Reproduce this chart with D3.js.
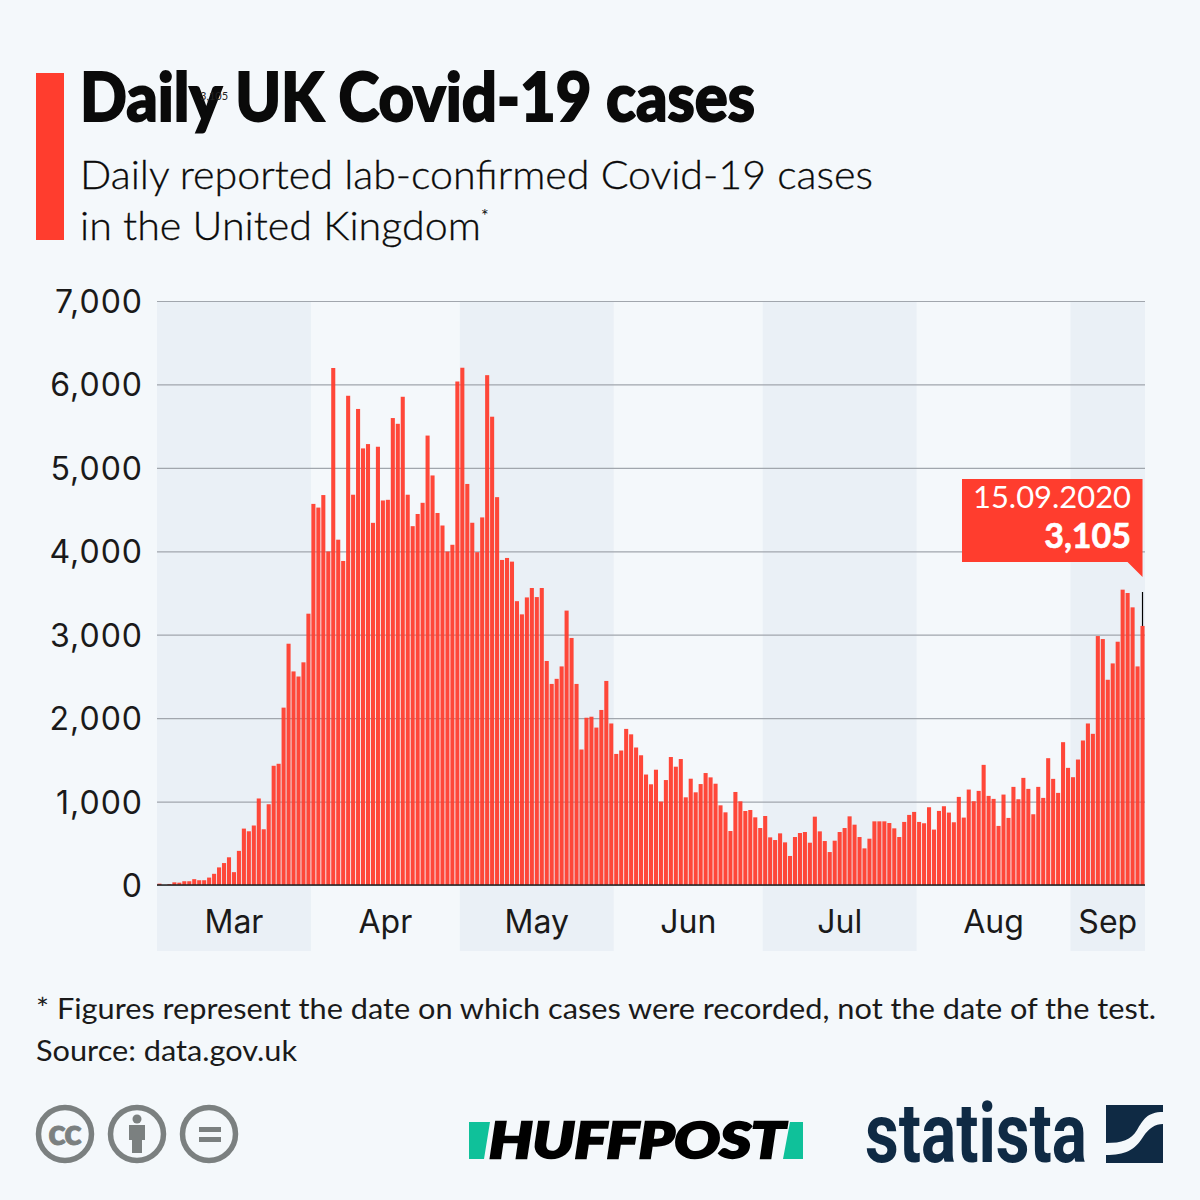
<!DOCTYPE html>
<html>
<head>
<meta charset="utf-8">
<script src="https://cdn.jsdelivr.net/npm/d3@7"></script>
<style>
  html, body { margin: 0; padding: 0; background: #f4f8fb; }
  svg { display: block; }
  text { font-family: Lato, "Open Sans", sans-serif; }
</style>
</head>
<body>
<svg id="chart"></svg>
<script>
// values, 1 March - 15 September 2020
const cases = [
  16, 0, 10, 32, 28, 45, 45, 70, 57, 57, 89, 134, 211, 263, 332, 154, 409, 676, 644, 713, 1037, 668, 968, 1429, 1453, 2126, 2892, 2560, 2499, 2669, 3252,
  4568, 4524, 4674, 3998, 6197, 4139, 3884, 5864, 4678, 5706, 5233, 5285, 4341, 5253, 4609, 4617, 5597, 5528, 5852, 4678, 4301, 4447, 4581, 5387, 4909, 4459, 4309, 3997, 4078, 6035,
  6200, 4807, 4342, 3989, 4406, 6111, 5613, 4649, 3896, 3920, 3876, 3402, 3244, 3447, 3560, 3451, 3560, 2685, 2410, 2471, 2620, 3289, 2961, 2410, 1624, 2005, 2017, 1887, 2098, 2446, 1936,
  1571, 1612, 1871, 1806, 1648, 1555, 1324, 1207, 1382, 1000, 1258, 1534, 1418, 1510, 1051, 1274, 1111, 1210, 1342, 1290, 1214, 955, 871, 647, 1115, 1003, 887, 899, 811, 683,
  827, 571, 539, 619, 511, 348, 575, 623, 635, 507, 819, 643, 527, 395, 531, 635, 683, 823, 723, 575, 439, 555, 763, 763, 763, 743, 679, 575, 756, 840, 876,
  756, 740, 932, 664, 888, 944, 868, 752, 1056, 808, 1144, 1004, 1128, 1440, 1068, 1032, 708, 1084, 804, 1176, 1028, 1284, 1152, 848, 1176, 1044, 1520, 1272, 1104, 1712, 1404, 1292, 1504,
  1732, 1936, 1812, 2984, 2948, 2460, 2656, 2916, 3540, 3500, 3328, 2620, 3105
];
const months = ['Mar', 'Apr', 'May', 'Jun', 'Jul', 'Aug', 'Sep'];
const monthDays = [31, 30, 31, 30, 31, 31, 15];
const yTicks = [0, 1000, 2000, 3000, 4000, 5000, 6000, 7000];
const subtitleLines = ['Daily reported lab-confirmed Covid-19 cases', 'in the United Kingdom'];
const footnotes = ['* Figures represent the date on which cases were recorded, not the date of the test.', 'Source: data.gov.uk'];

const width = 1200, height = 1200;
const margin = {top: 301, right: 55, bottom: 315, left: 157};
const red = '#ff3d2e', ink = '#0a0a0a', grey = '#7b8080', navy = '#0f2a44';

const svg = d3.select('#chart').attr('width', width).attr('height', height)
  .attr('viewBox', [0, 0, width, height]);
svg.append('rect').attr('width', width).attr('height', height).attr('fill', '#f4f8fb');

// header
svg.append('rect').attr('x', 36).attr('y', 73).attr('width', 28).attr('height', 167).attr('fill', red);
svg.append('text').attr('x', 80).attr('y', 121)
  .attr('font-size', 66).attr('font-weight', 900).attr('fill', ink)
  .attr('stroke', ink).attr('stroke-width', 1.8)
  .attr('textLength', 675).attr('lengthAdjust', 'spacingAndGlyphs')
  .text('Daily UK Covid-19 cases');
// small stray value that sits on the title in the original
svg.append('text').attr('x', 200).attr('y', 100)
  .attr('font-size', 11).attr('fill', '#222')
  .text('3,105');
svg.selectAll('.subtitle').data(subtitleLines).join('text')
  .attr('class', 'subtitle')
  .attr('x', 80).attr('y', (d, i) => 189 + i * 51)
  .attr('font-size', 39).attr('font-weight', 300).attr('fill', ink)
  .attr('stroke', ink).attr('stroke-width', 0.3)
  .attr('textLength', (d, i) => i ? 401 : 793)
  .attr('lengthAdjust', 'spacingAndGlyphs')
  .text(d => d);
svg.append('text').attr('x', 481).attr('y', 222)
  .attr('font-size', 18).attr('fill', ink).text('*');

// scales
const plotH = height - margin.top - margin.bottom;
const plotR = width - margin.right;
const x = d3.scaleBand()
  .domain(d3.range(cases.length))
  .range([margin.left, plotR])
  .paddingInner(0.18).paddingOuter(0.09);
const y = d3.scaleLinear()
  .domain([0, 7000])
  .range([margin.top + plotH, margin.top]);
const bandBottom = 951;

// month bands
let start = 0;
const monthSpans = months.map((m, i) => {
  const span = {name: m, i, from: start, to: start + monthDays[i]};
  start += monthDays[i];
  return span;
});
const dayEdge = d => margin.left + d * x.step();
svg.selectAll('.band').data(monthSpans.filter(d => d.i % 2 === 0)).join('rect')
  .attr('class', 'band')
  .attr('x', d => dayEdge(d.from))
  .attr('width', d => dayEdge(d.to) - dayEdge(d.from))
  .attr('y', margin.top)
  .attr('height', bandBottom - margin.top)
  .attr('fill', '#eaf0f6');

// y axis and grid
const yAxis = svg.append('g')
  .attr('transform', `translate(${margin.left},0)`)
  .call(d3.axisLeft(y).tickValues(yTicks).tickFormat(d3.format(',')).tickSize(-(plotR - margin.left)).tickPadding(14));
yAxis.select('.domain').remove();
yAxis.selectAll('line').attr('stroke', '#a1a6ad').attr('stroke-width', 1.2);
yAxis.selectAll('text').attr('font-size', 32).attr('fill', '#1a1a1a')
  .attr('letter-spacing', 1)
  .style('font-family', 'Inter, sans-serif').attr('font-weight', 400).attr('dy', '0.36em');

// bars
svg.append('g').selectAll('rect').data(cases).join('rect')
  .attr('x', (d, i) => x(i))
  .attr('y', d => y(d))
  .attr('width', x.bandwidth())
  .attr('height', d => y(0) - y(d))
  .attr('fill', red)
  .attr('fill-opacity', 0.95);

// baseline
svg.append('line')
  .attr('x1', margin.left).attr('x2', plotR)
  .attr('y1', y(0)).attr('y2', y(0))
  .attr('stroke', '#222').attr('stroke-width', 1.5);

// month labels
svg.selectAll('.month').data(monthSpans).join('text')
  .attr('class', 'month')
  .attr('x', d => (dayEdge(d.from) + dayEdge(d.to)) / 2)
  .attr('y', 933)
  .attr('text-anchor', 'middle')
  .attr('font-size', 32).attr('font-weight', 400).attr('fill', '#1a1a1a')
  .style('font-family', 'Inter, sans-serif')
  .text(d => d.name);

// callout for the last day
const lastI = cases.length - 1;
const tipX = x(lastI) + x.bandwidth() / 2;
svg.append('line')
  .attr('x1', tipX).attr('x2', tipX)
  .attr('y1', 592).attr('y2', y(cases[lastI]))
  .attr('stroke', '#000').attr('stroke-width', 1.2);
svg.append('path')
  .attr('d', `M962,479H${tipX}V577L${tipX - 15},562H962Z`)
  .attr('fill', red);
svg.append('text').attr('x', 1131).attr('y', 508).attr('text-anchor', 'end')
  .attr('font-size', 31).attr('font-weight', 400).attr('fill', '#fff')
  .attr('textLength', 158).attr('lengthAdjust', 'spacingAndGlyphs')
  .text('15.09.2020');
svg.append('text').attr('x', 1131).attr('y', 548).attr('text-anchor', 'end')
  .attr('font-size', 34).attr('font-weight', 700).attr('fill', '#fff')
  .attr('stroke', '#fff').attr('stroke-width', 0.6)
  .text(d3.format(',')(cases[lastI]));

// footnotes
svg.selectAll('.foot').data(footnotes).join('text')
  .attr('class', 'foot')
  .attr('x', 36).attr('y', (d, i) => 1019 + i * 42)
  .attr('font-size', 28).attr('fill', '#1a1a1a')
  .attr('textLength', (d, i) => i ? 261 : 1120)
  .attr('lengthAdjust', 'spacingAndGlyphs')
  .text(d => d);

// creative commons icons
const cc = svg.append('g').attr('fill', grey);
[65, 137, 209].forEach(cx => {
  cc.append('circle').attr('cx', cx).attr('cy', 1134).attr('r', 26.5)
    .attr('fill', 'none').attr('stroke', grey).attr('stroke-width', 5.5);
});
cc.append('text').attr('x', 64.5).attr('y', 1145).attr('text-anchor', 'middle')
  .attr('font-size', 36).attr('font-weight', 900).attr('letter-spacing', -1)
  .attr('stroke', grey).attr('stroke-width', 0.8).text('cc');
cc.append('circle').attr('cx', 137).attr('cy', 1119).attr('r', 4.5);
cc.append('path').attr('d', 'M129,1125H145V1140H142V1153H132V1140H129Z');
cc.append('rect').attr('x', 199).attr('y', 1127).attr('width', 22).attr('height', 5);
cc.append('rect').attr('x', 199).attr('y', 1137).attr('width', 22).attr('height', 5);

// huffpost logo
svg.append('path').attr('d', 'M469,1122H490L484,1159H469ZM790,1122H803V1159H783Z').attr('fill', '#0fc19a');
svg.append('text').attr('x', 489).attr('y', 1158)
  .attr('font-size', 50).attr('font-weight', 900).attr('font-style', 'italic').attr('fill', '#000')
  .attr('stroke', '#000').attr('stroke-width', 2.4)
  .attr('textLength', 296).attr('lengthAdjust', 'spacingAndGlyphs')
  .text('HUFFPOST');

// statista logo
svg.append('text').attr('x', 865).attr('y', 1162)
  .attr('font-size', 84).attr('font-weight', 700).attr('fill', navy)
  .style('font-family', '"Liberation Sans Narrow", Roboto, sans-serif')
  .attr('textLength', 222).attr('lengthAdjust', 'spacingAndGlyphs')
  .text('statista');
svg.append('path').attr('fill', navy)
  .attr('d', 'M1106,1105H1163V1112C1147,1112 1143,1120 1137,1130C1131,1140 1122,1143 1106,1143ZM1163,1124V1163H1106V1155C1125,1155 1135,1150 1143,1137C1149,1128 1155,1124 1163,1124Z');
</script>
</body>
</html>
